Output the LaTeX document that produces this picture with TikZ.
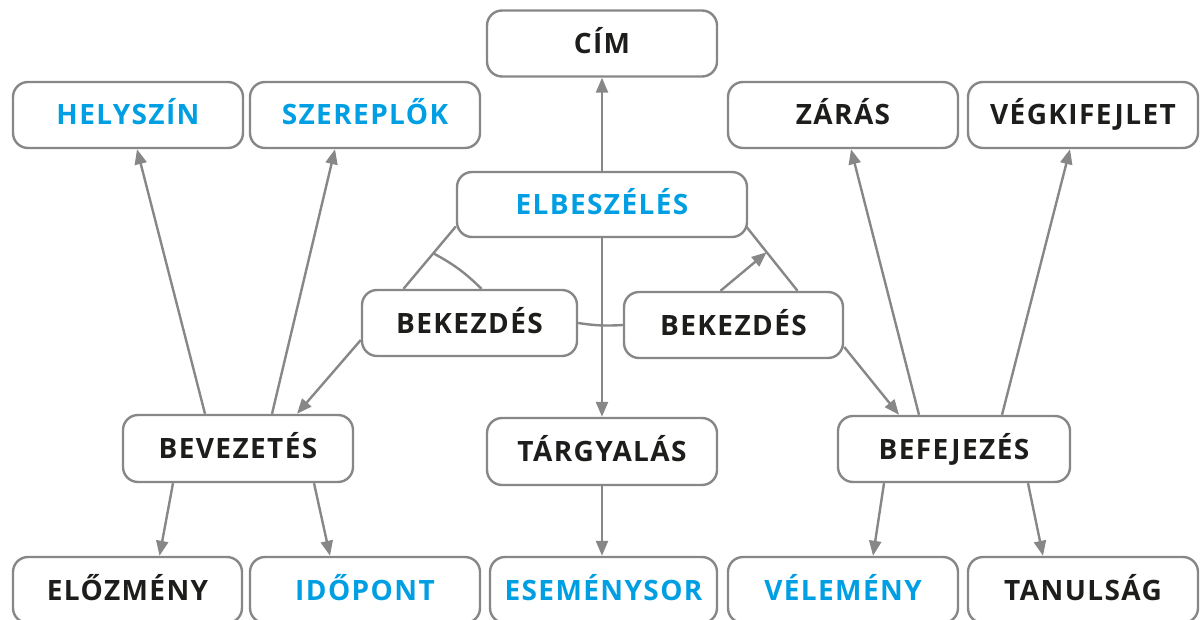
\documentclass[tikz,border=0pt]{standalone}
\usepackage{fontspec}
\setmainfont{Open Sans}[LetterSpace=5]
\usetikzlibrary{arrows.meta}
\definecolor{lgray}{HTML}{878787}
\definecolor{tblue}{HTML}{009FE3}
\definecolor{tblack}{HTML}{1D1D1B}
\begin{document}
\begin{tikzpicture}[x=1pt,y=-1pt,
  box/.style={draw=lgray,line width=2.4pt,rounded corners=15pt,minimum width=230pt,minimum height=66pt,
    inner sep=0pt,text height=20pt,text depth=0pt,font=\fontsize{28}{31}\selectfont\bfseries,text=tblack,fill=white},
  blue/.style={text=tblue},
  conn/.style={draw=lgray,line width=2.4pt},
  arr/.style={conn,-{Triangle[length=15pt,width=12pt]}}]
\clip (0,0) rectangle (1201,620);
\useasboundingbox (0,0) rectangle (1201,620);
% nodes
\node[box] (cim) at (602,43.5) {CÍM};
\node[box,blue] (hely) at (128,115) {HELYSZÍN};
\node[box,blue] (szer) at (365,115) {SZEREPLŐK};
\node[box] (zaras) at (843,115) {ZÁRÁS};
\node[box] (veg) at (1083,115) {VÉGKIFEJLET};
\node[box,blue,minimum width=290pt,minimum height=65pt] (elb) at (602,204.5) {ELBESZÉLÉS};
\node[box,minimum width=215pt] (bek1) at (469.5,323) {BEKEZDÉS};
\node[box,minimum width=219pt] (bek2) at (733.5,325) {BEKEZDÉS};
\node[box,minimum height=67pt] (bev) at (238,448.5) {BEVEZETÉS};
\node[box,minimum height=67pt] (targy) at (602,451.5) {TÁRGYALÁS};
\node[box,minimum width=232pt] (bef) at (954,449) {BEFEJEZÉS};
\node[box,minimum width=229pt] (elo) at (127.5,590) {ELŐZMÉNY};
\node[box,blue] (ido) at (365,590) {IDŐPONT};
\node[box,blue,minimum width=227pt] (esem) at (603.5,590) {ESEMÉNYSOR};
\node[box,blue] (vel) at (843,590) {VÉLEMÉNY};
\node[box] (tan) at (1083,590) {TANULSÁG};
% connectors
\draw[arr] (elb.north) -- (cim.south);
\draw[arr] (elb.south) -- (targy.north);
\draw[conn] (bek1.east) to[bend right=6] (bek2.west);
\draw[conn] ([yshift=-22]elb.west) -- coordinate[pos=0.43] (l1) ([xshift=-66]bek1.north);
\draw[conn] (l1) to[bend left=8] ([xshift=12]bek1.north);
\draw[conn] ([xshift=-2,yshift=-22]elb.east) -- coordinate[pos=0.4] (r1) ([xshift=64]bek2.north);
\draw[arr] ([xshift=-13]bek2.north) -- (r1);
\draw[arr] ([yshift=-17]bek1.west) -- ([xshift=59]bev.north);
\draw[arr] ([xshift=-33]bev.north) -- ([xshift=9]hely.south);
\draw[arr] ([xshift=34]bev.north) -- ([xshift=-30]szer.south);
\draw[arr] ([xshift=-65]bev.south) -- ([xshift=32]elo.north);
\draw[arr] ([xshift=76]bev.south) -- ([xshift=-35]ido.north);
\draw[arr] (targy.south) -- (targy.south |- esem.north);
\draw[arr] ([yshift=-22]bek2.east) -- ([xshift=-55]bef.north);
\draw[arr] ([xshift=-35]bef.north) -- ([xshift=8]zaras.south);
\draw[arr] ([xshift=48]bef.north) -- ([xshift=-13]veg.south);
\draw[arr] ([xshift=-70]bef.south) -- ([xshift=30]vel.north);
\draw[arr] ([xshift=74]bef.south) -- ([xshift=-40]tan.north);
\end{tikzpicture}
\end{document}
